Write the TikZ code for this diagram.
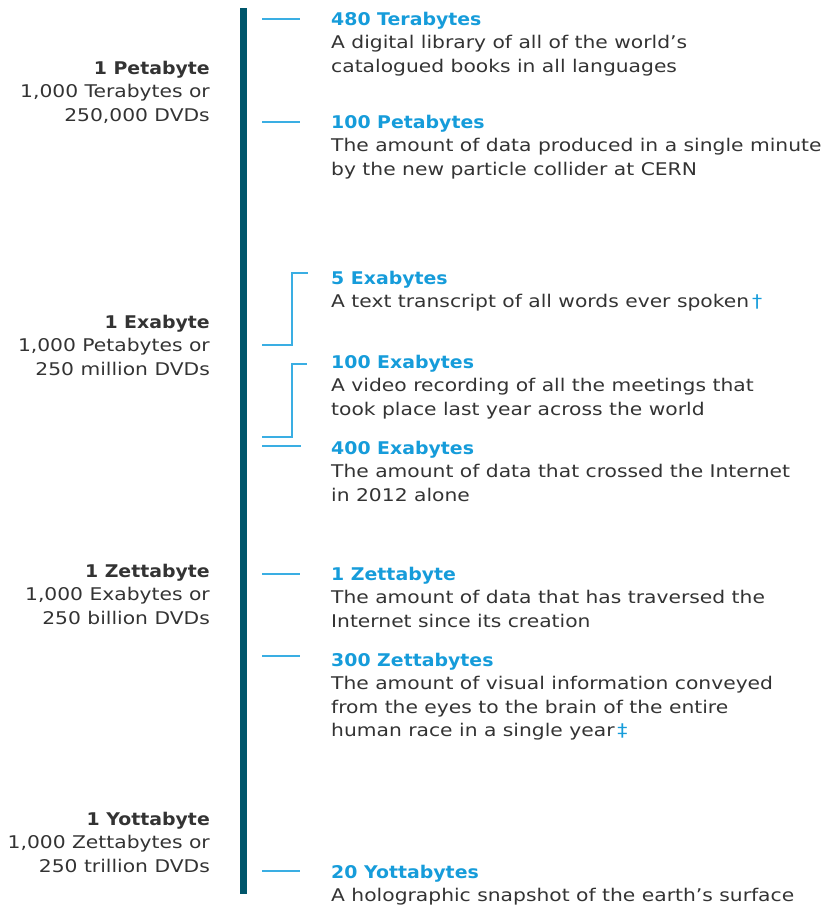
\documentclass[tikz,border=0pt]{standalone}
\usepackage{fontspec}
\setmainfont{DejaVu Sans}[FakeStretch=1.158,BoldFeatures={FakeStretch=1.08}]
\definecolor{barc}{HTML}{00566B}
\definecolor{cblue}{HTML}{169CDA}
\definecolor{tickc}{HTML}{3AAEE3}
\definecolor{txt}{HTML}{333333}
\newcommand{\fs}{\fontsize{17.5}{23.5}\selectfont}
\newcommand{\ttl}[1]{\textbf{\color{cblue}#1}}
\newcommand{\rblk}[1]{\parbox[t]{560pt}{\raggedright\fs #1}}
\newcommand{\lblk}[1]{\parbox[t]{240pt}{\raggedleft\fs #1}}
\begin{document}
\begin{tikzpicture}[x=1pt,y=-1pt,
  rtext/.style={anchor=base west,inner sep=0pt,text=txt},
  ltext/.style={anchor=base east,inner sep=0pt,text=txt},
  tick/.style={draw=tickc,line width=1.6pt},
  spine/.style={fill=barc,draw=none}]
\useasboundingbox (0,0) rectangle (823,906);
% spine
\fill[spine] (240,8) rectangle (247,894);
% left scale labels
\node[ltext] (pb) at (210,74) {\lblk{\textbf{1 Petabyte}\\1,000 Terabytes or\\250,000 DVDs}};
\node[ltext] (eb) at (210,328) {\lblk{\textbf{1 Exabyte}\\1,000 Petabytes or\\250 million DVDs}};
\node[ltext] (zb) at (210,577) {\lblk{\textbf{1 Zettabyte}\\1,000 Exabytes or\\250 billion DVDs}};
\node[ltext] (yb) at (210,825) {\lblk{\textbf{1 Yottabyte}\\1,000 Zettabytes or\\250 trillion DVDs}};
% right items
\node[rtext] (t1) at (331,25) {\rblk{\ttl{480 Terabytes}\\A digital library of all of the world’s\\catalogued books in all languages}};
\node[rtext] (t2) at (331,128) {\rblk{\ttl{100 Petabytes}\\The amount of data produced in a single minute\\by the new particle collider at CERN}};
\node[rtext] (t3) at (331,284) {\rblk{\ttl{5 Exabytes}\\A text transcript of all words ever spoken\,{\color{cblue}†}}};
\node[rtext] (t4) at (331,368) {\rblk{\ttl{100 Exabytes}\\A video recording of all the meetings that\\took place last year across the world}};
\node[rtext] (t5) at (331,454) {\rblk{\ttl{400 Exabytes}\\The amount of data that crossed the Internet\\in 2012 alone}};
\node[rtext] (t6) at (331,580) {\rblk{\ttl{1 Zettabyte}\\The amount of data that has traversed the\\Internet since its creation}};
\node[rtext] (t7) at (331,666) {\rblk{\ttl{300 Zettabytes}\\The amount of visual information conveyed\\from the eyes to the brain of the entire\\human race in a single year\,{\color{cblue}‡}}};
\node[rtext] (t8) at (331,878) {\rblk{\ttl{20 Yottabytes}\\A holographic snapshot of the earth’s surface}};
% tick coordinates
\coordinate (a1) at (262,19);  \coordinate (b1) at (300,19);
\coordinate (a2) at (262,122); \coordinate (b2) at (300,122);
\coordinate (a3) at (262,345); \coordinate (k3) at (292,345); \coordinate (m3) at (292,273); \coordinate (b3) at (308,273);
\coordinate (a4) at (262,437); \coordinate (k4) at (292,437); \coordinate (m4) at (292,364); \coordinate (b4) at (307,364);
\coordinate (a5) at (262,446); \coordinate (b5) at (301,446);
\coordinate (a6) at (262,574); \coordinate (b6) at (300,574);
\coordinate (a7) at (262,656); \coordinate (b7) at (300,656);
\coordinate (a8) at (262,871); \coordinate (b8) at (300,871);
\draw[tick] (a1) -- (b1);
\draw[tick] (a2) -- (b2);
\draw[tick] (a3) -- (k3) -- (m3) -- (b3);
\draw[tick] (a4) -- (k4) -- (m4) -- (b4);
\draw[tick] (a5) -- (b5);
\draw[tick] (a6) -- (b6);
\draw[tick] (a7) -- (b7);
\draw[tick] (a8) -- (b8);
\end{tikzpicture}
\end{document}
